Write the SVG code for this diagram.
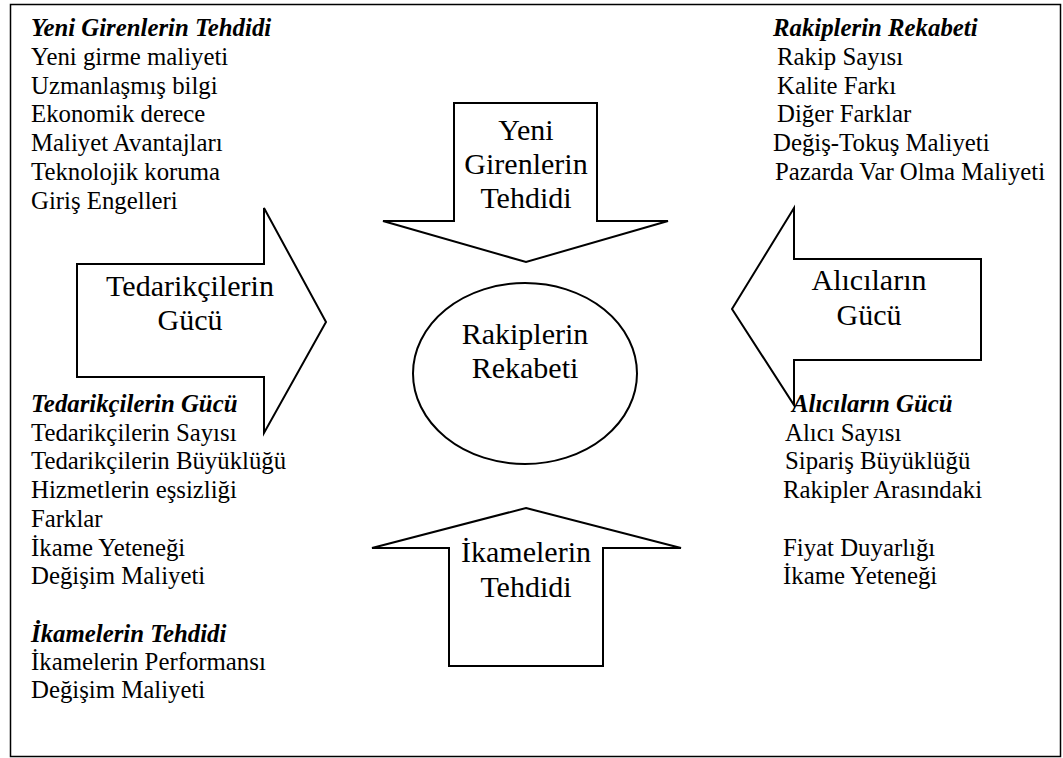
<svg xmlns="http://www.w3.org/2000/svg" width="1063" height="758" viewBox="0 0 1063 758">
<style>
.shape{fill:#fff;stroke:#000;stroke-width:2;stroke-linejoin:miter}
text{font-family:'Liberation Serif',Tinos,'DejaVu Serif',serif;fill:#000}
.t text{font-size:24.8px}
.h{font-weight:bold;font-style:italic}
.big{font-size:30px;text-anchor:middle}
</style>
<rect x="10.5" y="4.5" width="1050" height="752" fill="#fff" stroke="#000" stroke-width="1.5"/>
<g id="connectors"></g>
<g id="node-yeni-girenler">
<polygon class="shape" points="454,103 597,103 597,221 668,221 526,262 383,221 454,221"/>
<text class="big" font-family="Liberation Serif, serif"><tspan x="526" y="140">Yeni</tspan><tspan x="526" y="174">Girenlerin</tspan><tspan x="526" y="208">Tehdidi</tspan></text>
</g>
<g id="node-tedarikciler">
<polygon class="shape" points="77,264 264,264 264,208 326,322 264,433 264,377 77,377"/>
<text class="big"><tspan x="190" y="296">Tedarikçilerin</tspan><tspan x="190" y="330">Gücü</tspan></text>
</g>
<g id="node-alicilar">
<polygon class="shape" points="981,259 794,259 794,208 732,309 794,405 794,360 981,360"/>
<text class="big"><tspan x="869" y="290">Alıcıların</tspan><tspan x="869" y="325">Gücü</tspan></text>
</g>
<g id="node-rakipler">
<ellipse class="shape" cx="525" cy="373.5" rx="112" ry="90.5"/>
<text class="big"><tspan x="525" y="344">Rakiplerin</tspan><tspan x="525" y="378">Rekabeti</tspan></text>
</g>
<g id="node-ikameler">
<polygon class="shape" points="526,508 681,548 603,548 603,666 449,666 449,548 372,548"/>
<text class="big"><tspan x="526" y="562">İkamelerin</tspan><tspan x="526" y="597">Tehdidi</tspan></text>
</g>
<g id="list-yeni-girenler" class="t">
<text x="31" y="36" class="h">Yeni Girenlerin Tehdidi</text>
<text x="31" y="65">Yeni girme maliyeti</text>
<text x="31" y="94">Uzmanlaşmış bilgi</text>
<text x="31" y="122">Ekonomik derece</text>
<text x="31" y="151">Maliyet Avantajları</text>
<text x="31" y="180">Teknolojik koruma</text>
<text x="31" y="209">Giriş Engelleri</text>
</g>
<g id="list-rakipler" class="t">
<text x="773" y="36" class="h">Rakiplerin Rekabeti</text>
<text x="777" y="65">Rakip Sayısı</text>
<text x="777" y="94">Kalite Farkı</text>
<text x="777" y="122">Diğer Farklar</text>
<text x="773" y="151">Değiş-Tokuş Maliyeti</text>
<text x="775" y="180">Pazarda Var Olma Maliyeti</text>
</g>
<g id="list-tedarikciler" class="t">
<text x="31" y="412" class="h">Tedarikçilerin Gücü</text>
<text x="31" y="441">Tedarikçilerin Sayısı</text>
<text x="31" y="469">Tedarikçilerin Büyüklüğü</text>
<text x="31" y="498">Hizmetlerin eşsizliği</text>
<text x="31" y="527">Farklar</text>
<text x="31" y="556">İkame Yeteneği</text>
<text x="31" y="584">Değişim Maliyeti</text>
<text x="31" y="642" class="h">İkamelerin Tehdidi</text>
<text x="31" y="670">İkamelerin Performansı</text>
<text x="31" y="698">Değişim Maliyeti</text>
</g>
<g id="list-alicilar" class="t">
<text x="792" y="412" class="h">Alıcıların Gücü</text>
<text x="785" y="441">Alıcı Sayısı</text>
<text x="785" y="469">Sipariş Büyüklüğü</text>
<text x="783" y="498">Rakipler Arasındaki</text>
<text x="783" y="556">Fiyat Duyarlığı</text>
<text x="783" y="584">İkame Yeteneği</text>
</g>
</svg>
